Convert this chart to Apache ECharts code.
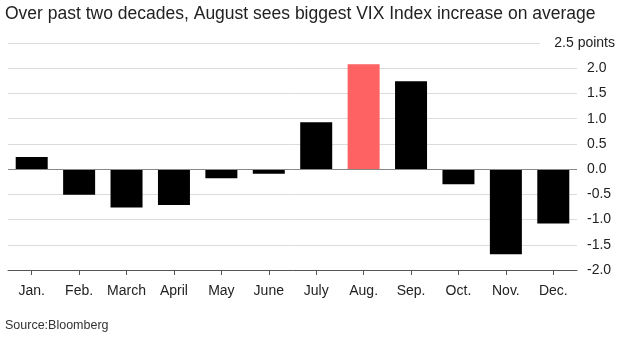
<!DOCTYPE html>
<html>
<head>
<meta charset="utf-8">
<script src="https://cdn.jsdelivr.net/npm/echarts@6/dist/echarts.min.js"></script>
<style>
  html, body { margin: 0; padding: 0; background: #fff; }
  #chart { width: 618px; height: 337px; }
</style>
</head>
<body>
<div id="chart"></div>
<script>
// Average monthly change in the VIX Index, in points
const months = ['Jan.', 'Feb.', 'March', 'April', 'May', 'June', 'July', 'Aug.', 'Sep.', 'Oct.', 'Nov.', 'Dec.'];
const avgChange = [0.24, -0.51, -0.76, -0.71, -0.18, -0.09, 0.93, 2.08, 1.74, -0.30, -1.69, -1.08];
const highlightMonth = 'Aug.';
const yTicks = [-2.0, -1.5, -1.0, -0.5, 0.0, 0.5, 1.0, 1.5, 2.0, 2.5];
const topUnit = 'points';

const FONT = '"Liberation Sans", Arial, Helvetica, sans-serif';
const chart = echarts.init(document.getElementById('chart'), null, { renderer: 'canvas' });

const yMin = yTicks[0];
const yMax = yTicks[yTicks.length - 1];
const yStep = yTicks[1] - yTicks[0];
const isTop = function (v) { return Math.abs(v - yMax) < 1e-9; };

chart.setOption({
  animation: false,
  backgroundColor: '#fff',
  textStyle: { fontFamily: FONT },
  title: [
    {
      text: 'Over past two decades, August sees biggest VIX Index increase on average',
      left: 0, top: 0,
      textStyle: { fontFamily: FONT, fontSize: 17.5, fontWeight: 'normal', color: '#222' }
    },
    {
      text: 'Source:Bloomberg',
      left: 0, top: 314,
      textStyle: { fontFamily: FONT, fontSize: 12.5, fontWeight: 'normal', color: '#333' }
    }
  ],
  grid: { left: 8, right: 39, top: 43, bottom: 67, containLabel: false },
  xAxis: {
    type: 'category',
    data: months,
    position: 'bottom',
    axisLine: { show: true, onZero: false, lineStyle: { color: '#555', width: 1 } },
    axisTick: { show: true, alignWithLabel: true, interval: 0, length: 5, lineStyle: { color: '#555', width: 1 } },
    axisLabel: { interval: 0, fontFamily: FONT, fontSize: 14, color: '#222', margin: 14 },
    splitLine: { show: false }
  },
  yAxis: [
    {
      // main value scale: gridlines and the numeric labels
      type: 'value',
      position: 'right',
      min: yMin, max: yMax, interval: yStep,
      axisLine: { show: false },
      axisTick: { show: false },
      splitLine: { lineStyle: { color: '#dcdcdc', width: 1 } },
      axisLabel: {
        fontFamily: FONT, fontSize: 14, color: '#222',
        align: 'left', margin: 10,
        formatter: function (v) { return isTop(v) ? '' : v.toFixed(1); }
      }
    },
    {
      // same scale, only carries the unit label at the top tick
      type: 'value',
      position: 'right',
      min: yMin, max: yMax, interval: yStep,
      axisLine: { show: false },
      axisTick: { show: false },
      splitLine: { show: false },
      axisLabel: {
        align: 'right', margin: 38,
        formatter: function (v) { return isTop(v) ? '{top|' + v.toFixed(1) + ' ' + topUnit + '}' : ''; },
        rich: {
          top: { fontFamily: FONT, fontSize: 14, color: '#222', backgroundColor: '#fff', padding: [2, 0, 2, 14] }
        }
      }
    }
  ],
  series: [{
    type: 'bar',
    yAxisIndex: 0,
    data: avgChange.map(function (v, i) {
      return {
        value: v,
        itemStyle: { color: months[i] === highlightMonth ? '#ff6262' : '#000' }
      };
    }),
    barWidth: 32,
    markLine: {
      silent: true,
      symbol: ['none', 'none'],
      label: { show: false },
      lineStyle: { color: '#888', width: 1, type: 'solid' },
      data: [{ yAxis: 0 }]
    }
  }]
});
</script>
</body>
</html>
